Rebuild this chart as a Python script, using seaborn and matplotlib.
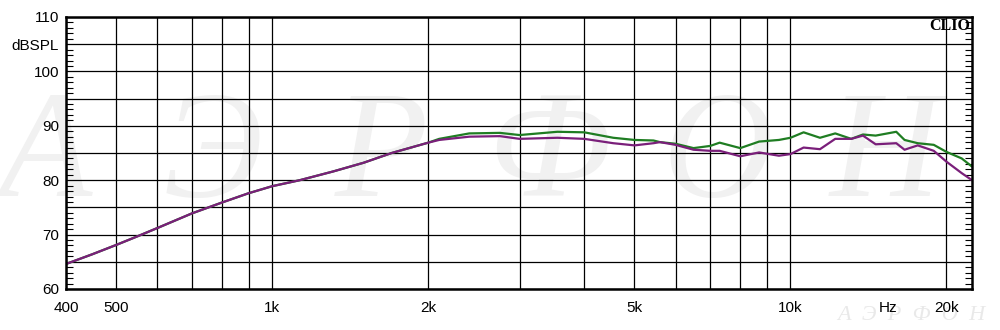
import matplotlib
matplotlib.use("Agg")
import matplotlib.pyplot as plt
from matplotlib.ticker import MultipleLocator, FixedLocator, FixedFormatter, NullFormatter
import seaborn as sns
import pandas as pd

# ---- data ----
freq_hz = [400, 450, 500, 550, 600, 700, 800, 900, 1000, 1130, 1310, 1500, 1700,
           2000, 2100, 2400, 2750, 3000, 3550, 4000, 4550, 5000, 5440, 5600, 6000,
           6500, 7000, 7300, 8000, 8700, 9500, 10000, 10600, 11400, 12200, 13100,
           13800, 14600, 16000, 16600, 17600, 18900, 20000, 21400, 22400]
green_db = [64.6, 66.4, 68.1, 69.7, 71.2, 73.9, 75.9, 77.6, 78.9, 80.0, 81.6, 83.2, 85.0,
            86.9, 87.6, 88.6, 88.7, 88.3, 88.9, 88.8, 87.8, 87.4, 87.3, 87.0, 86.7,
            85.9, 86.3, 86.9, 85.9, 87.1, 87.4, 87.8, 88.8, 87.8, 88.6, 87.6,
            88.4, 88.2, 88.9, 87.4, 86.8, 86.5, 85.2, 84.0, 82.5]
purple_db = [64.6, 66.4, 68.1, 69.7, 71.2, 73.9, 75.9, 77.6, 78.9, 80.0, 81.6, 83.2, 85.0,
             86.9, 87.4, 88.0, 88.1, 87.6, 87.8, 87.6, 86.8, 86.4, 86.8, 87.0, 86.5,
             85.6, 85.4, 85.4, 84.4, 85.1, 84.5, 84.8, 86.0, 85.7, 87.6, 87.6,
             88.2, 86.6, 86.8, 85.6, 86.4, 85.4, 83.4, 81.3, 80.0]

grid_x = [400, 500, 600, 700, 800, 900, 1000, 2000, 3000, 4000, 5000, 6000,
          7000, 8000, 9000, 10000, 20000]
grid_x_labels = ['400', '500', '', '', '', '', '1k', '2k', '', '', '5k', '', '',
                 '', '', '10k', '20k']
hz_pos = [15400]
hz_label = ['Hz']
y_major = [60, 65, 70, 75, 80, 85, 90, 95, 100, 105, 110]
y_labels = ['60', '', '70', '', '80', '', '90', '', '100', 'dBSPL', '110']
watermark = ['А', 'Э', 'Р', 'Ф', 'О', 'Н']

df = pd.DataFrame({
    'freq': freq_hz * 2,
    'spl': green_db + purple_db,
    'series': ['green'] * len(freq_hz) + ['purple'] * len(freq_hz),
})

sns.set_style('white')
plt.rcParams['font.family'] = ['Liberation Sans', 'DejaVu Sans']

fig = plt.figure(figsize=(10, 3.3), dpi=100)
fig.patch.set_facecolor('white')
ax = fig.add_axes([0.066, 1 - 289 / 330, (972 - 66) / 1000, (289 - 17) / 330])
ax.set_facecolor('none')

# watermark behind everything
for i, ch in enumerate(watermark):
    fig.text((45 + 168 * i) / 1000, 1 - 160 / 330, ch, ha='center', va='center',
             fontsize=110, fontstyle='italic', family=['Liberation Serif', 'DejaVu Serif'],
             color='#f1f1f1', zorder=-10)
fig.text(0.985, 1 - 315 / 330, '  '.join(watermark), ha='right', va='center',
         fontsize=16, fontstyle='italic', family=['Liberation Serif', 'DejaVu Serif'],
         color='#e9e9e9', zorder=-10)

sns.lineplot(data=df, x='freq', y='spl', hue='series',
             palette={'green': '#1f7d22', 'purple': '#7a1f7a'},
             linewidth=1.6, legend=False, ax=ax, zorder=5)
ax.set_xscale('log')
ax.set_xlim(400, 22400)
ax.set_ylim(60, 110)
ax.set_xlabel('')
ax.set_ylabel('')

ax.xaxis.set_major_locator(FixedLocator(grid_x))
ax.xaxis.set_major_formatter(FixedFormatter(grid_x_labels))
ax.xaxis.set_minor_locator(FixedLocator(hz_pos))
ax.xaxis.set_minor_formatter(FixedFormatter(hz_label))
ax.yaxis.set_major_locator(FixedLocator(y_major))
ax.yaxis.set_major_formatter(FixedFormatter(y_labels))
ax.yaxis.set_minor_locator(MultipleLocator(1))

ax.tick_params(axis='x', which='both', length=0, pad=9, labelsize=11, colors='black')
ax.tick_params(axis='y', which='major', length=0, pad=5, labelsize=11, colors='black')
ax.tick_params(axis='y', which='minor', direction='in', length=5, width=0.8,
               left=True, right=True, color='black')

ax.grid(True, which='major', color='black', linewidth=0.9)
ax.set_axisbelow(True)
for s in ax.spines.values():
    s.set_visible(True)
    s.set_color('black')
    s.set_linewidth(1.8)
    s.set_zorder(6)

ax.text(0.998, 0.995, 'CLIO', transform=ax.transAxes, ha='right', va='top',
        fontsize=11.5, fontweight='bold', family=['Liberation Serif', 'DejaVu Serif'],
        color='black', zorder=7)

fig.savefig('out.png', dpi=100, facecolor='white')
